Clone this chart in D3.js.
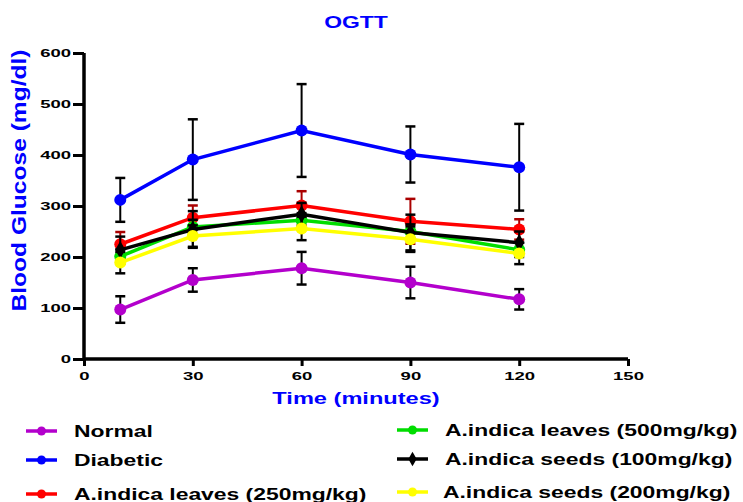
<!DOCTYPE html>
<html>
<head>
<meta charset="utf-8">
<script src="https://cdn.jsdelivr.net/npm/d3@7"></script>
<style>
  body { margin: 0; background: #fff; }
  text { font-family: "Liberation Sans", Arial, sans-serif; font-weight: bold; }
</style>
</head>
<body>
<div id="chart-area"></div>
<script>
const WIDTH = 743;
const HEIGHT = 502;

// time points (minutes)
const times = [10, 30, 60, 90, 120];

// group names, in legend order
const groups = ["Normal", "Diabetic", "A.indica leaves (250mg/kg)",
    "A.indica leaves (500mg/kg)", "A.indica seeds (100mg/kg)", "A.indica seeds (200mg/kg)"];

// mean blood glucose per group
const normalMean   = [97, 155, 178, 150, 117];
const diabeticMean = [312, 391, 448, 401, 376];
const leaves250Mean = [225, 277, 301, 270, 254];
const leaves500Mean = [201, 259, 272, 250, 214];
const seeds100Mean = [214, 254, 284, 248, 228];
const seeds200Mean = [189, 241, 256, 235, 207];

// error (± SD) per group
const normalErr   = [26, 23, 32, 31, 20];
const diabeticErr = [43, 79, 91, 55, 85];
const leaves250Err = [24, 24, 28, 44, 20];
const leaves500Err = [14, 14, 14, 14, 14];
const seeds100Err = [26, 36, 22, 35, 22];
const seeds200Err = [21, 21, 23, 25, 21];

const yTicks = [0, 100, 200, 300, 400, 500, 600];
const xTicks = [0, 30, 60, 90, 120, 150];

const colors = ["#b300cc", "#0000ff", "#ff0000", "#00dd00", "#000000", "#ffff00"];
const errColors = ["#000", "#000", "#aa0000", "#000", "#000", "#000"];
const shapes = ["circle", "circle", "circle", "circle", "diamond", "circle"];

const means = [normalMean, diabeticMean, leaves250Mean, leaves500Mean, seeds100Mean, seeds200Mean];
const errs = [normalErr, diabeticErr, leaves250Err, leaves500Err, seeds100Err, seeds200Err];

const series = groups.map((g, i) => ({
    name: g, color: colors[i], errColor: errColors[i], shape: shapes[i],
    values: times.map((t, j) => ({ t: t, v: means[i][j], e: errs[i][j] }))
}));

// the original text is drawn wide, so stretch it horizontally
const TEXT_STRETCH = 1.43;
const TICK_STRETCH = 1.85;

const svg = d3.select("#chart-area").append("svg")
    .attr("width", WIDTH)
    .attr("height", HEIGHT);

const x = d3.scaleLinear().domain([0, 150]).range([84, 628]);
const y = d3.scaleLinear().domain([0, 600]).range([359, 53]);

function wideText(px, py, str, size, color, anchor) {
    return svg.append("text")
        .attr("transform", `translate(${px},${py}) scale(${TEXT_STRETCH},1)`)
        .attr("text-anchor", anchor || "start")
        .style("font-size", size + "px")
        .style("fill", color)
        .text(str);
}

// title
wideText(356, 28, "OGTT", 16, "#0000ff", "middle");

// axes
const xAxis = svg.append("g")
    .attr("transform", `translate(0,${y(0)})`)
    .call(d3.axisBottom(x).tickValues(xTicks).tickSize(7).tickPadding(7));
const yAxis = svg.append("g")
    .attr("transform", `translate(${x(0)},0)`)
    .call(d3.axisLeft(y).tickValues(yTicks).tickSize(11).tickPadding(2));

[xAxis, yAxis].forEach(ax => {
    ax.select(".domain").attr("stroke", "#000").attr("stroke-width", 3.5);
    ax.selectAll(".tick line").attr("stroke", "#000").attr("stroke-width", 3);
    ax.selectAll(".tick text")
        .style("font-size", "10px")
        .style("font-family", "'Liberation Sans', Arial, sans-serif")
        .style("font-weight", "bold")
        .attr("fill", "#000")
        .attr("transform", `scale(${TICK_STRETCH},1)`);
});
yAxis.selectAll(".tick text").attr("x", -13 / TICK_STRETCH);
// remove the outer tick stubs from the domain path
xAxis.select(".domain").attr("d", `M${x(0)},0H${x(150)}`);
yAxis.select(".domain").attr("d", `M0,${y(0)}V${y(600)}`);

// axis titles
wideText(356, 404, "Time (minutes)", 16.5, "#0000ff", "middle");

svg.append("text")
    .attr("transform", `translate(26,${y(350)}) rotate(-90) scale(1.17,1)`)
    .attr("text-anchor", "middle")
    .style("font-size", "21px")
    .style("fill", "#0000ff")
    .text("Blood Glucose (mg/dl)");

const line = d3.line().x(d => x(d.t)).y(d => y(d.v));
const diamond = d3.symbol().type(d3.symbolDiamond).size(90);

// draw each series: error bars, line, markers
series.forEach(s => {
    const g = svg.append("g");
    const capW = 5;
    s.values.forEach(d => {
        const y1 = y(d.v + d.e), y2 = y(d.v - d.e);
        g.append("line").attr("x1", x(d.t)).attr("x2", x(d.t))
            .attr("y1", y1).attr("y2", y2)
            .attr("stroke", s.errColor).attr("stroke-width", 2);
        [y1, y2].forEach(yy => g.append("line")
            .attr("x1", x(d.t) - capW).attr("x2", x(d.t) + capW)
            .attr("y1", yy).attr("y2", yy)
            .attr("stroke", s.errColor).attr("stroke-width", 2.5));
    });
    g.append("path").datum(s.values)
        .attr("d", line)
        .attr("fill", "none")
        .attr("stroke", s.color)
        .attr("stroke-width", 3.5);
    if (s.shape === "diamond") {
        g.selectAll("path.pt").data(s.values).enter().append("path")
            .attr("class", "pt")
            .attr("transform", d => `translate(${x(d.t)},${y(d.v)})`)
            .attr("d", diamond)
            .attr("fill", s.color);
    } else {
        g.selectAll("circle").data(s.values).enter().append("circle")
            .attr("cx", d => x(d.t)).attr("cy", d => y(d.v))
            .attr("r", 6)
            .attr("fill", s.color);
    }
});

// legend
const legendPos = [
    { lx: 26, tx: 74, y: 431 }, { lx: 26, tx: 74, y: 460 }, { lx: 26, tx: 74, y: 494 },
    { lx: 397, tx: 445, y: 430 }, { lx: 397, tx: 445, y: 459 }, { lx: 397, tx: 443, y: 492 }
];
series.forEach((s, i) => {
    const p = legendPos[i];
    const g = svg.append("g");
    g.append("line").attr("x1", p.lx).attr("x2", p.lx + 31)
        .attr("y1", p.y).attr("y2", p.y)
        .attr("stroke", s.color).attr("stroke-width", 3.5);
    if (s.shape === "diamond") {
        g.append("path").attr("transform", `translate(${p.lx + 15.5},${p.y})`)
            .attr("d", d3.symbol().type(d3.symbolDiamond).size(60)).attr("fill", s.color);
    } else {
        g.append("circle").attr("cx", p.lx + 15.5).attr("cy", p.y).attr("r", 4.5).attr("fill", s.color);
    }
    wideText(p.tx, p.y + 6, s.name, 16, "#000");
});
</script>
</body>
</html>
